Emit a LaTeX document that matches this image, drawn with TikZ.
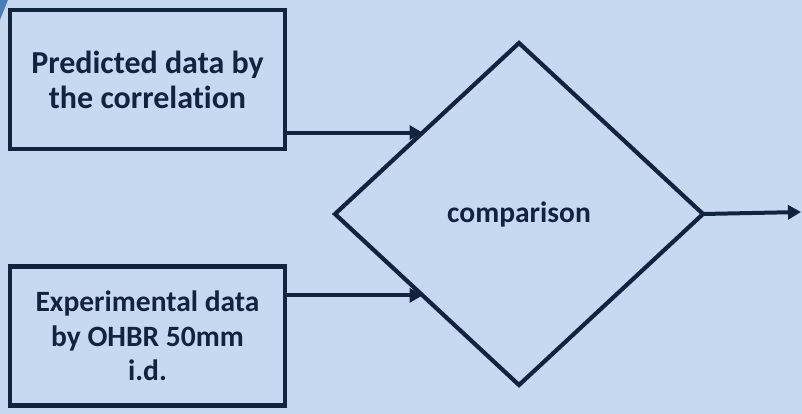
\documentclass[tikz,border=0pt]{standalone}
\usepackage{fontspec}
\setmainfont[Ligatures=NoCommon]{Carlito}
\usetikzlibrary{shapes.geometric,arrows.meta,calc}
\definecolor{bg}{HTML}{C6D9F1}
\definecolor{navy}{HTML}{10243E}
\definecolor{midblue}{HTML}{4A7EBB}
\tikzset{
  box/.style={draw=navy, line width=4.5pt, minimum width=275pt, minimum height=139pt,
    inner sep=0pt, outer sep=0pt, align=center, text=navy},
  dia/.style={draw=navy, line width=4.2pt, shape=diamond, minimum width=368pt, minimum height=342pt,
    inner sep=0pt, outer sep=0pt, text=navy, font=\bfseries\fontsize{29.5}{35}\selectfont},
  arr/.style={draw=navy, line width=4pt, -{Triangle[length=13pt,width=14pt]}}
}
\begin{document}
\begin{tikzpicture}[x=1pt,y=-1pt]
\fill[bg] (0,0) rectangle (802,414);
\useasboundingbox (0,0) rectangle (802,414);
\fill[midblue] (0,0) -- (8,0) -- (0,20) -- cycle;
\node[box, font=\bfseries\fontsize{32}{35}\selectfont] (pred) at (147.5,79.5) {Predicted data by\\the correlation};
\node[box, font=\bfseries\fontsize{29.5}{34.5}\selectfont] (exp) at (147.5,336) {Experimental data\\by OHBR 50mm\\i.d.};
\node[dia] (cmp) at (519,214) {comparison};
\coordinate (p1) at ($(cmp.west)!0.476!(cmp.north)$);
\coordinate (p2) at ($(cmp.west)!0.476!(cmp.south)$);
\coordinate (out) at (801,212);
\draw[arr] (p1 -| pred.east) -- (p1);
\draw[arr] (p2 -| exp.east) -- (p2);
\draw[arr] (cmp.east) -- (out);
\end{tikzpicture}
\end{document}
